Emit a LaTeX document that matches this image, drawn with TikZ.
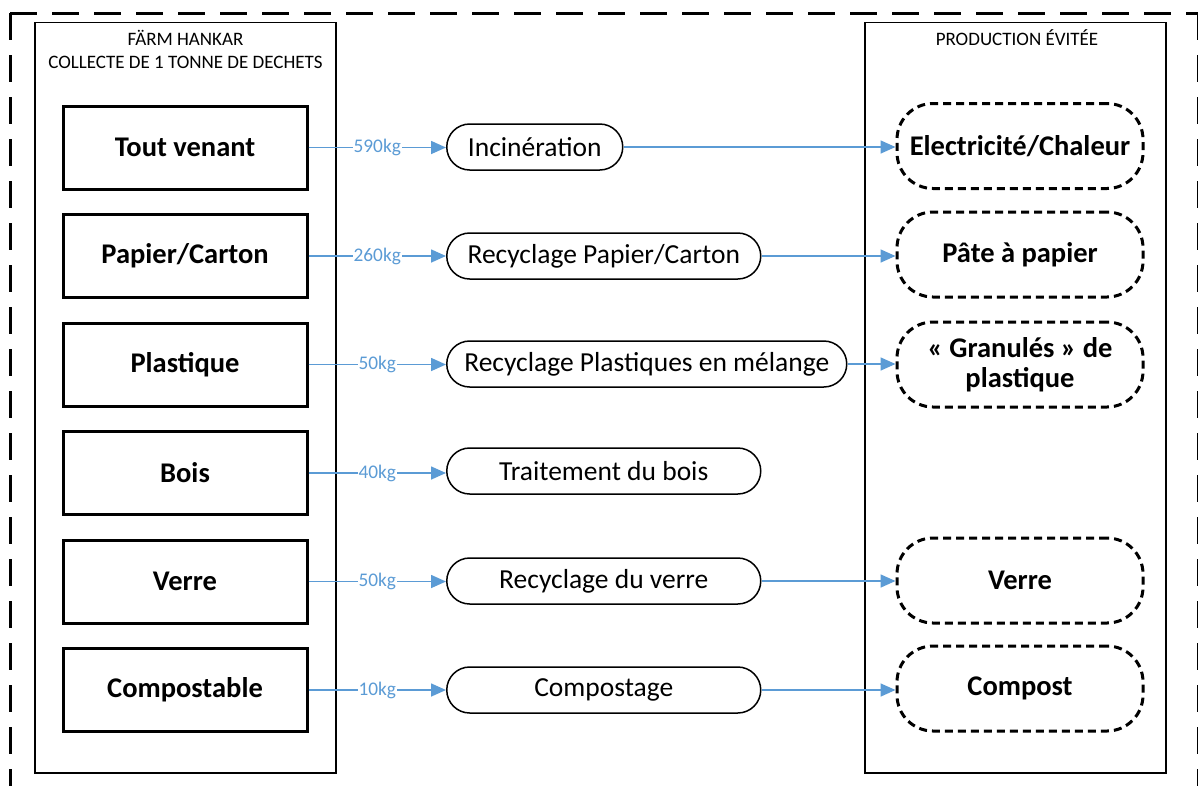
\documentclass[tikz,border=0pt]{standalone}
\usepackage{fontspec}
\setmainfont{Carlito}
\usetikzlibrary{arrows.meta}
\definecolor{flowblue}{HTML}{5B9BD5}
\newcommand{\fsz}[2]{\fontsize{#1}{#2}\selectfont}
\tikzset{
  frame/.style={line width=3pt, dash pattern=on 27pt off 15pt},
  panel/.style={draw, line width=1.5pt, inner sep=0pt},
  header/.style={font=\fsz{19}{23}, align=center, inner sep=0pt},
  srcbox/.style={draw, line width=3pt, minimum width=244pt, minimum height=83pt,
    inner sep=0pt, font=\fsz{28.5}{30}\bfseries},
  proc/.style={draw, line width=1.5pt, rounded corners=23pt, minimum height=46pt,
    inner sep=0pt, anchor=west, font=\fsz{27.5}{30}},
  outcome/.style={draw, line width=3pt, dash pattern=on 8pt off 5pt,
    rounded corners=36pt, minimum width=246pt, minimum height=85pt,
    inner sep=0pt, align=center, font=\fsz{28.5}{30}\bfseries},
  flow/.style={draw=flowblue, line width=1.6pt, -{Triangle[length=15pt,width=13pt]}, fill=flowblue},
  qty/.style={fill=white, text=flowblue, inner sep=1pt, font=\fsz{19.3}{21}},
}
\begin{document}
\begin{tikzpicture}[x=1pt, y=-1pt]
\useasboundingbox (0,0) rectangle (1198,785);

% outer dashed boundary
\draw[frame] (10,13) -- (1198.5,13);
\draw[frame] (10,13) -- (10,810);
\draw[frame] (1198.5,13) -- (1198.5,810);

% the two side panels
\node[panel, minimum width=301pt, minimum height=750.5pt] (srcpanel) at (185.5,397.75) {};
\node[panel, minimum width=301pt, minimum height=750.5pt] (outpanel) at (1015.5,397.75) {};
\node[header] (srchead) at (185.5,49) {FÄRM HANKAR\\COLLECTE DE 1 TONNE DE DECHETS};
\node[header] (outhead) at (1017,38) {PRODUCTION ÉVITÉE};

% waste streams
\node[srcbox] (tv)   at (185,147.5) {Tout venant};
\node[srcbox] (pc)   at (185,256)   {Papier/Carton};
\node[srcbox] (pl)   at (185,364.5) {Plastique};
\node[srcbox] (bo)   at (185,473)   {Bois};
\node[srcbox] (ve)   at (185,581.5) {Verre};
\node[srcbox] (co)   at (185,690)   {Compostable};

% treatments
\node[proc, minimum width=176pt] (inc)  at (446,147)   {Incinération};
\node[proc, minimum width=314pt] (rpc)  at (446,256)   {Recyclage Papier/Carton};
\node[proc, minimum width=400pt] (rpl)  at (446,364)   {Recyclage Plastiques en mélange};
\node[proc, minimum width=314pt] (tbo)  at (446,471)   {Traitement du bois};
\node[proc, minimum width=314pt] (rve)  at (446,581)   {Recyclage du verre};
\node[proc, minimum width=314pt] (cmp)  at (446,690)   {Compostage};

% avoided production
\node[outcome] (elec) at (1020,146)   {Electricité/Chaleur};
\node[outcome] (pate) at (1020,254.5) {Pâte à papier};
\node[outcome] (gran) at (1020,364.5) {« Granulés » de\\plastique};
\node[outcome] (verr) at (1020,580.5) {Verre};
\node[outcome] (cpst) at (1020,688.5) {Compost};

% flows
\draw[flow] (tv.east) -- node[qty] {590kg} (tv.east -| inc.west);
\draw[flow] (pc.east) -- node[qty] {260kg} (pc.east -| rpc.west);
\draw[flow] (pl.east) -- node[qty] {50kg}  (pl.east -| rpl.west);
\draw[flow] (bo.east) -- node[qty] {40kg}  (bo.east -| tbo.west);
\draw[flow] (ve.east) -- node[qty] {50kg}  (ve.east -| rve.west);
\draw[flow] (co.east) -- node[qty] {10kg}  (co.east -| cmp.west);

\draw[flow] (inc.east) -- (inc.east -| elec.west);
\draw[flow] (rpc.east) -- (rpc.east -| pate.west);
\draw[flow] (rpl.east) -- (rpl.east -| gran.west);
\draw[flow] (rve.east) -- (rve.east -| verr.west);
\draw[flow] (cmp.east) -- (cmp.east -| cpst.west);
\end{tikzpicture}
\end{document}
